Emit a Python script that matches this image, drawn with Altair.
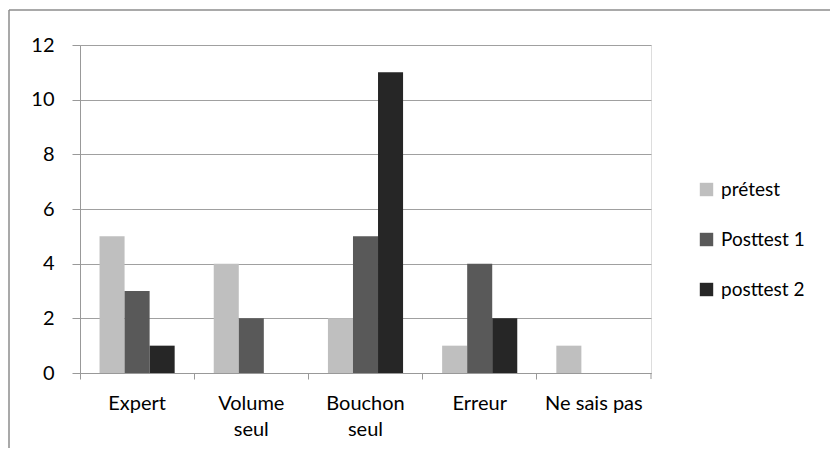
import altair as alt
import pandas as pd

categories = ["Expert", "Volume seul", "Bouchon seul", "Erreur", "Ne sais pas"]
series = ["prétest", "Posttest 1", "posttest 2"]
pretest = [5, 4, 2, 1, 1]
posttest1 = [3, 2, 5, 4, 0]
posttest2 = [1, 0, 11, 2, 0]
colors = ["#bfbfbf", "#595959", "#262626"]

rows = []
for i, c in enumerate(categories):
    for s, vals in zip(series, [pretest, posttest1, posttest2]):
        rows.append({"cat": c, "serie": s, "val": vals[i]})
df = pd.DataFrame(rows)

W, H = 571, 328
FONT = "Lato"

bars = alt.Chart(df).mark_bar().encode(
    x=alt.X("cat:N", sort=categories, title=None,
            scale=alt.Scale(paddingInner=0, paddingOuter=0),
            axis=alt.Axis(bandPosition=0, labelAngle=0, tickSize=6, labelPadding=14,
                          labelFontSize=20, labelFont=FONT, labelColor="#000",
                          labelLineHeight=26, labelBaseline="top",
                          labelExpr="indexof(datum.label, 'seul') > 0 ? split(datum.label, ' ') : datum.label",
                          domainColor="#999", tickColor="#999", grid=False)),
    xOffset=alt.XOffset("serie:N", sort=series,
                        scale=alt.Scale(paddingInner=0, paddingOuter=0.78)),
    y=alt.Y("val:Q", title=None,
            scale=alt.Scale(domain=[0, 12], nice=False),
            axis=alt.Axis(values=[0, 2, 4, 6, 8, 10, 12], tickSize=8, labelPadding=18,
                          labelFontSize=20, labelFont=FONT, labelColor="#000",
                          domainColor="#999", tickColor="#999", gridColor="#a0a0a0",
                          gridWidth=1)),
    color=alt.Color("serie:N", sort=series,
                    scale=alt.Scale(domain=series, range=colors),
                    legend=alt.Legend(title=None, orient="none", legendX=617, legendY=135,
                                      symbolType="square", symbolSize=180,
                                      symbolStrokeWidth=0, labelFontSize=19,
                                      labelFont=FONT, labelColor="#000",
                                      rowPadding=30, labelOffset=5)),
)

end_tick = alt.Chart(alt.Data(values=[{}])).mark_rule(color="#999").encode(
    x=alt.value(W), y=alt.value(H), y2=alt.value(H + 6))

border_top = alt.Chart(alt.Data(values=[{}])).mark_rule(color="#8c8c8c", strokeWidth=1.5).encode(
    x=alt.value(-71), x2=alt.value(780), y=alt.value(-35))
border_left = alt.Chart(alt.Data(values=[{}])).mark_rule(color="#8c8c8c", strokeWidth=1.5).encode(
    x=alt.value(-71), y=alt.value(-35), y2=alt.value(420))

chart = alt.layer(bars, end_tick, border_top, border_left).properties(
    width=W, height=H,
    autosize=alt.AutoSizeParams(type="none"),
    padding={"left": 72, "top": 37, "right": 179, "bottom": 75},
).configure_view(stroke=None).configure(background="white")

chart.save("out.html", embed_options={"renderer": "svg", "actions": False})
